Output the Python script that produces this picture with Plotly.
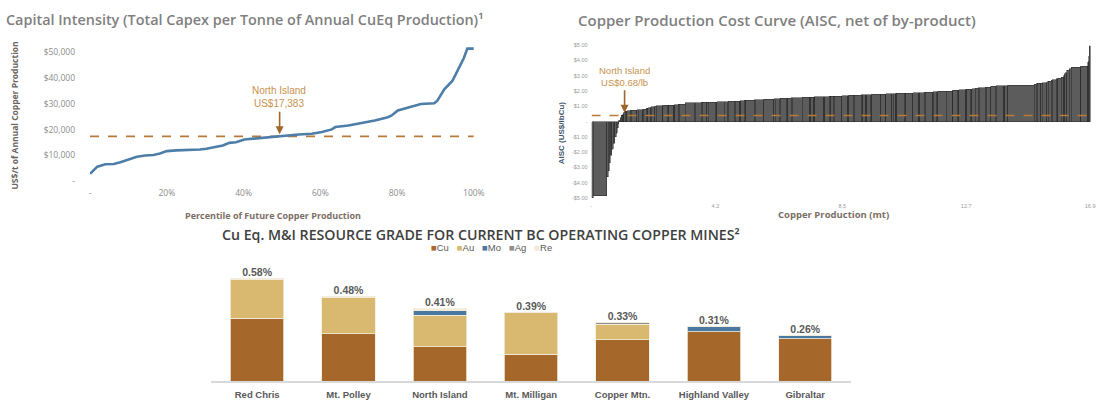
import plotly.graph_objects as go

W, H = 1110, 404

# ---------------- Left chart: capital intensity curve ----------------
pct = [0, 1.9, 4.0, 6.2, 7.9, 10.1, 12.2, 14.4, 16.5, 18.2, 20.0, 22.5, 25.1, 28.6, 30.3,
       32.9, 34.6, 36.3, 38.0, 40.2, 42.3, 45.8, 49.2, 51.8, 54.4, 57.8, 60.4, 63.0, 63.9,
       67.3, 70.7, 74.2, 77.6, 78.5, 80.2, 82.8, 85.4, 86.2, 89.7, 90.5, 92.3, 94.4, 95.7,
       97.4, 98.3, 100]
capex = [2900, 5700, 6600, 6700, 7400, 8500, 9500, 10000, 10200, 10800, 11700, 12000, 12100,
         12300, 12600, 13400, 13900, 14900, 15100, 16200, 16500, 16900, 17200, 17800, 18100,
         18400, 19100, 20100, 21000, 21600, 22500, 23500, 24800, 25400, 27400, 28400, 29300,
         29900, 30200, 31200, 35600, 38800, 42600, 47700, 51300, 51300]
ni_capex = 17383
ni_capex_pct = 49.4
left_xticks = [0, 20, 40, 60, 80, 100]
left_xlabels = ["-", "20%", "40%", "60%", "80%", "100%"]
left_yticks = [0, 10000, 20000, 30000, 40000, 50000]
left_ylabels = ["-", "$10,000", "$20,000", "$30,000", "$40,000", "$50,000"]

# ---------------- Right chart: AISC cost curve ----------------
cost_width = [0.06, 0.45, 0.05, 0.04, 0.04, 0.05, 0.04, 0.05, 0.05, 0.04, 0.03, 0.03,
              0.04, 0.04, 0.04, 0.04, 0.05, 0.05,
              0.12, 0.03, 0.2, 0.04, 0.15, 0.03, 0.09,
              0.05, 0.1, 0.03, 0.12, 0.04,
              0.2, 0.03, 0.15, 0.04, 0.18, 0.03, 0.12, 0.04, 0.2,
              0.3, 0.04, 0.2, 0.03, 0.15, 0.05, 0.25, 0.04, 0.26,
              0.1, 0.03, 0.2, 0.04, 0.15, 0.03, 0.12, 0.05, 0.3, 0.03, 0.28,
              0.35, 0.04, 0.15, 0.03, 0.2, 0.05, 0.12, 0.03, 0.35,
              0.25, 0.03, 0.1, 0.04, 0.3, 0.03, 0.15, 0.05, 0.1, 0.03, 0.25,
              0.2, 0.04, 0.15, 0.03, 0.25, 0.05, 0.1, 0.03, 0.12, 0.04, 0.31,
              0.15, 0.03, 0.2, 0.04, 0.1, 0.03, 0.25, 0.05, 0.24,
              0.2, 0.03, 0.15, 0.04, 0.25, 0.03, 0.1, 0.05, 0.28,
              0.2, 0.03, 0.15, 0.04, 0.25, 0.03, 0.12, 0.05, 0.12,
              0.1, 0.03, 0.2, 0.04, 0.16,
              0.15, 0.03, 0.25, 0.04, 0.1,
              0.89,
              0.08, 0.03, 0.12, 0.05, 0.15,
              0.05, 0.1, 0.03, 0.15,
              0.04, 0.12, 0.08,
              0.04, 0.06, 0.1, 0.06,
              0.3, 0.03, 0.23,
              0.03, 0.02, 0.03]
cost_aisc = [-4.98, -4.85, -3.6, -3.2, -2.7, -2.2, -1.8, -1.4, -1.0, -0.75, -0.4, -0.15,
             0.1, 0.25, 0.4, 0.52, 0.62, 0.68,
             0.72, 0.74, 0.75, 0.77, 0.78, 0.8, 0.82,
             0.88, 0.92, 0.95, 0.98, 1.0,
             1.03, 1.05, 1.06, 1.07, 1.08, 1.1, 1.11, 1.12, 1.15,
             1.22, 1.23, 1.24, 1.25, 1.25, 1.26, 1.27, 1.28, 1.29,
             1.3, 1.31, 1.32, 1.33, 1.34, 1.35, 1.36, 1.38, 1.4, 1.42, 1.44,
             1.47, 1.48, 1.5, 1.51, 1.52, 1.53, 1.54, 1.55, 1.56,
             1.58, 1.59, 1.6, 1.61, 1.62, 1.63, 1.64, 1.65, 1.66, 1.66, 1.67,
             1.69, 1.7, 1.71, 1.72, 1.73, 1.74, 1.75, 1.76, 1.76, 1.77, 1.78,
             1.79, 1.8, 1.81, 1.82, 1.83, 1.84, 1.85, 1.86, 1.87,
             1.88, 1.89, 1.9, 1.91, 1.92, 1.93, 1.94, 1.95, 1.97,
             2.0, 2.02, 2.04, 2.06, 2.08, 2.1, 2.12, 2.13, 2.15,
             2.18, 2.2, 2.22, 2.24, 2.26,
             2.3, 2.31, 2.33, 2.34, 2.35,
             2.38,
             2.45, 2.48, 2.5, 2.52, 2.55,
             2.6, 2.65, 2.7, 2.75,
             2.8, 2.85, 2.9,
             3.05, 3.2, 3.35, 3.45,
             3.55, 3.58, 3.62,
             3.9, 4.3, 4.95]
ni_aisc_label = 0.68
ni_aisc_line = 0.40
ni_prod_mt = 1.12
right_xticks = [0, 4.2, 8.5, 12.7, 16.9]
right_xlabels = ["-", "4.2", "8.5", "12.7", "16.9"]
right_yticks = [5, 4, 3, 2, 1, 0, -1, -2, -3, -4, -5]
right_ylabels = ["$5.00", "$4.00", "$3.00", "$2.00", "$1.00", "-",
                 "-$1.00", "-$2.00", "-$3.00", "-$4.00", "-$5.00"]

# ---------------- Bottom chart: resource grade ----------------
mines = ["Red Chris", "Mt. Polley", "North Island", "Mt. Milligan", "Copper Mtn.",
         "Highland Valley", "Gibraltar"]
grade_cu = [0.355, 0.267, 0.195, 0.153, 0.235, 0.280, 0.240]
grade_au = [0.220, 0.208, 0.178, 0.235, 0.088, 0.000, 0.000]
grade_mo = [0.000, 0.000, 0.025, 0.000, 0.000, 0.030, 0.020]
grade_ag = [0.000, 0.005, 0.000, 0.002, 0.007, 0.000, 0.000]
grade_re = [0.005, 0.000, 0.012, 0.000, 0.000, 0.000, 0.000]
grade_total = [0.58, 0.48, 0.41, 0.39, 0.33, 0.31, 0.26]
grade_labels = ["0.58%", "0.48%", "0.41%", "0.39%", "0.33%", "0.31%", "0.26%"]

# ---------------- colours ----------------
BLUE = "#4d7ea8"
DASH = "#b97a36"
ARROW = "#a0672c"
NI_TEXT = "#c8924e"
GRAY_TXT = "#8c8c8c"
AX_TITLE = "#7a6e66"
C_CU, C_AU, C_MO, C_AG, C_RE = "#a5672a", "#d9b96f", "#4a78a0", "#8e8e8e", "#f2ead6"


def px(x):
    return x / W


def py(y):
    return 1 - y / H


fig = go.Figure()

# left chart
fig.add_trace(go.Scatter(x=[0, 100], y=[ni_capex, ni_capex], mode="lines",
                         line=dict(color=DASH, width=1.6, dash="dash"),
                         xaxis="x", yaxis="y", showlegend=False, hoverinfo="skip"))
fig.add_trace(go.Scatter(x=pct, y=capex, mode="lines", line=dict(color=BLUE, width=2.6),
                         xaxis="x", yaxis="y", showlegend=False))

# right chart
centers = []
acc = 0.0
for w in cost_width:
    centers.append(acc + w / 2)
    acc += w
fig.add_trace(go.Bar(x=centers, y=cost_aisc, width=cost_width,
                     marker=dict(color="#5c5c5c", line=dict(color="#262626", width=0.5)),
                     xaxis="x2", yaxis="y2", showlegend=False))
fig.add_trace(go.Scatter(x=[0, 16.8], y=[ni_aisc_line, ni_aisc_line], mode="lines",
                         line=dict(color=DASH, width=1.6, dash="dash"),
                         xaxis="x2", yaxis="y2", showlegend=False, hoverinfo="skip"))

# bottom chart
for name, vals, col in [("Cu", grade_cu, C_CU), ("Au", grade_au, C_AU), ("Mo", grade_mo, C_MO),
                        ("Ag", grade_ag, C_AG), ("Re", grade_re, C_RE)]:
    fig.add_trace(go.Bar(x=mines, y=vals, name=name,
                         marker=dict(color=col, line=dict(color="#f3ecdc", width=0.8)),
                         xaxis="x3", yaxis="y3", showlegend=False))
fig.add_trace(go.Scatter(x=mines, y=grade_total, mode="text", text=grade_labels,
                         textposition="top center",
                         textfont=dict(family="Liberation Sans", size=10.5, color="#595959",
                                       weight="bold"),
                         xaxis="x3", yaxis="y3", showlegend=False, hoverinfo="skip"))

tick_left = dict(family="Open Sans", size=8.5, color=GRAY_TXT)
tick_right = dict(family="Liberation Sans", size=5.5, color="#9a9a9a")

fig.update_layout(
    width=W, height=H, margin=dict(l=0, r=0, t=0, b=0),
    paper_bgcolor="white", plot_bgcolor="white",
    barmode="stack", bargap=0.415,
    xaxis=dict(domain=[px(90), px(478)], range=[0, 100], anchor="y",
               tickvals=left_xticks, ticktext=left_xlabels, tickfont=tick_left,
               showgrid=False, zeroline=False, showline=False, ticks="", ticklabelstandoff=5),
    yaxis=dict(domain=[py(182), py(182 - 52000 * 132 / 50000)], range=[0, 52000], anchor="x",
               tickvals=left_yticks, ticktext=left_ylabels, tickfont=tick_left,
               showgrid=False, zeroline=False, showline=False, ticks="", ticklabelstandoff=14),
    xaxis2=dict(domain=[px(597), px(1104)], range=[0, 17.0], anchor="y2",
                tickvals=right_xticks, ticktext=right_xlabels, tickfont=tick_right,
                showgrid=False, zeroline=False, showline=False, ticks="", ticklabelstandoff=3),
    yaxis2=dict(domain=[py(199), py(43)], range=[-5, 5], anchor="x2",
                tickvals=right_yticks, ticktext=right_ylabels, tickfont=tick_right,
                showgrid=False, zeroline=False, showline=False, ticks="", ticklabelstandoff=3),
    xaxis3=dict(domain=[px(212.8), px(859.2)], anchor="y3", type="category",
                tickfont=dict(family="Liberation Sans", size=9.5, color="#595959", weight="bold"),
                showgrid=False, zeroline=False, showline=True, linecolor="#d9d9d9", linewidth=1.5,
                ticks="", ticklabelstandoff=3),
    yaxis3=dict(domain=[py(386), py(386 - 0.7 * 181)], range=[0, 0.7], anchor="x3",
                visible=False),
    hovermode=False,
)

ann = []
# titles
ann.append(dict(x=px(246.5), y=py(17), xref="paper", yref="paper", xanchor="center",
                yanchor="middle",
                text="Capital Intensity (Total Capex per Tonne of Annual CuEq Production)¹",
                showarrow=False, font=dict(family="Open Sans", size=14.4, color="#7f7f7f",
                                           weight=600)))
ann.append(dict(x=px(784), y=py(17), xref="paper", yref="paper", xanchor="center",
                yanchor="middle",
                text="Copper Production Cost Curve (AISC, net of by-product)",
                showarrow=False, font=dict(family="Open Sans", size=15, color="#7f7f7f",
                                           weight=600)))
ann.append(dict(x=px(485), y=py(236), xref="paper", yref="paper", xanchor="center",
                yanchor="middle",
                text="Cu Eq. M&I RESOURCE GRADE FOR CURRENT BC OPERATING COPPER MINES²",
                showarrow=False, font=dict(family="Open Sans", size=14.2, color="#404040",
                                           weight=600)))
# legend for bottom chart
sep = "\u00a0\u00a0\u00a0"
leg = sep.join(f"<span style='color:{c}'>■</span>{n}" for n, c in
               [("Cu", C_CU), ("Au", C_AU), ("Mo", C_MO), ("Ag", C_AG), ("Re", C_RE)])
ann.append(dict(x=px(496), y=py(249), xref="paper", yref="paper", xanchor="center",
                yanchor="middle", text=leg, showarrow=False,
                font=dict(family="Liberation Sans", size=9.5, color="#595959")))
# axis titles
ann.append(dict(x=px(14), y=py(115), xref="paper", yref="paper", xanchor="center",
                yanchor="middle", textangle=-90, text="US$/t of Annual Copper Production",
                showarrow=False, font=dict(family="Open Sans", size=8.5, color="#6b6461",
                                           weight="bold")))
ann.append(dict(x=px(275), y=py(217), xref="paper", yref="paper", xanchor="center",
                yanchor="middle", text="Percentile of Future Copper Production",
                showarrow=False, font=dict(family="Open Sans", size=9, color=AX_TITLE,
                                           weight="bold")))
ann.append(dict(x=px(567), y=py(132), xref="paper", yref="paper", xanchor="center",
                yanchor="middle", textangle=-90, text="AISC (US$/lbCu)",
                showarrow=False, font=dict(family="Liberation Sans", size=8, color="#44546a",
                                           weight="bold")))
ann.append(dict(x=px(842), y=py(216), xref="paper", yref="paper", xanchor="center",
                yanchor="middle", text="Copper Production (mt)",
                showarrow=False, font=dict(family="Open Sans", size=9.5, color=AX_TITLE,
                                           weight="bold")))
# North Island callouts
ann.append(dict(x=ni_capex_pct, y=(182 - 134) / 132 * 50000, xref="x", yref="y",
                ax=0, ay=-24, text="", showarrow=True, arrowhead=2, arrowsize=1,
                arrowwidth=1.6, arrowcolor=ARROW))
ann.append(dict(x=px(281), y=py(95.5), xref="paper", yref="paper", xanchor="center",
                yanchor="middle", text=f"North Island<br>US${ni_capex:,}", showarrow=False,
                font=dict(family="Liberation Sans", size=10, color=NI_TEXT)))
ann.append(dict(x=ni_prod_mt, y=(121 - 112) / 15.6, xref="x2", yref="y2",
                ax=0, ay=-24, text="", showarrow=True, arrowhead=2, arrowsize=1,
                arrowwidth=1.6, arrowcolor=ARROW))
ann.append(dict(x=px(630), y=py(74.5), xref="paper", yref="paper", xanchor="center",
                yanchor="middle", text=f"North Island<br>US${ni_aisc_label:.2f}/lb",
                showarrow=False, font=dict(family="Liberation Sans", size=9.5, color=NI_TEXT)))
fig.update_layout(annotations=ann)

fig.write_html("out.html", config={"displayModeBar": False},
               post_script="document.body.style.margin='0';document.body.style.overflow='hidden';")
